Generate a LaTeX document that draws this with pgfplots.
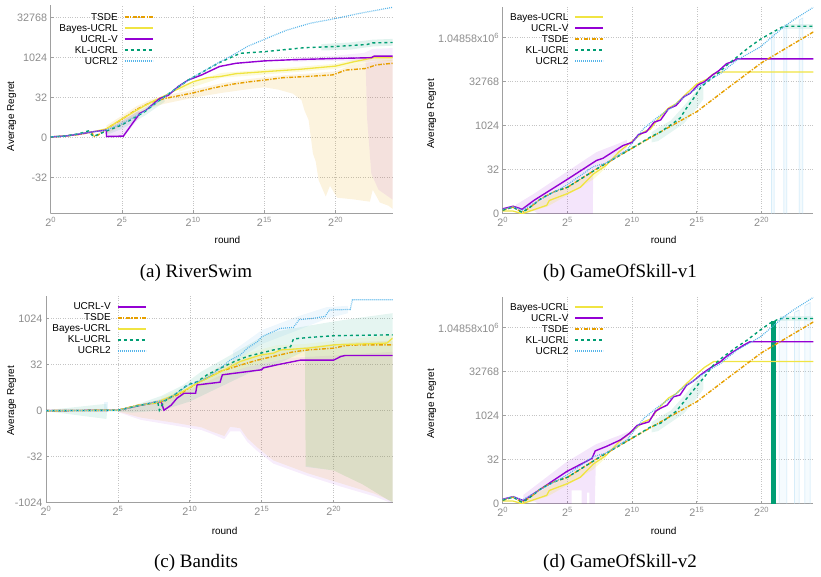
\documentclass[border=0pt]{standalone}
\usepackage{fontspec}
\setmainfont{Liberation Serif}
\setsansfont{Liberation Sans}
\usepackage{pgfplots}
\pgfplotsset{compat=1.18}

\definecolor{cTSDE}{HTML}{E69F00}
\definecolor{cBayes}{HTML}{F0E442}
\definecolor{cUCRLV}{HTML}{9400D3}
\definecolor{cKL}{HTML}{009E73}
\definecolor{cUCRL}{HTML}{56B4E9}
\definecolor{axgray}{HTML}{A0A0A0}
\definecolor{gridgray}{HTML}{C4C4C4}
\definecolor{ticktext}{HTML}{8C8C8C}

\pgfplotsset{
  legend image code/.code={\draw[#1, line width=1.8pt] (0pt,0pt) -- (28pt,0pt);},
  regret/.style={
    scale only axis, xmin=0, xmax=24,
    axis lines*=left,
    axis line style={draw=axgray, line width=0.9pt},
    tick align=inside, major tick length=3pt,
    tick style={draw=axgray, line width=0.8pt},
    xtick={0,5,10,15,20},
    xticklabels={2\textsuperscript{0},2\textsuperscript{5},2\textsuperscript{10},2\textsuperscript{15},2\textsuperscript{20}},
    xmajorgrids, ymajorgrids,
    major grid style={draw=gridgray, line width=0.6pt, dash pattern=on 0.6pt off 1.8pt},
    tick label style={font=\sffamily\fontsize{10.8}{12}\selectfont, text=ticktext},
    label style={font=\sffamily\fontsize{10}{12}\selectfont},
    xlabel={round}, ylabel={Average Regret},
    legend plot pos=right, legend cell align=right,
    legend style={draw=none, fill=none, anchor=north west, inner sep=0pt, column sep=5pt,
      font=\sffamily\fontsize{10}{12}\selectfont,
      nodes={inner sep=1pt, text height=7.3pt, text depth=1.7pt}},
  },
  gosticks/.style={ymin=0, ymax=4.7, ytick={0,1,2,3,4},
    yticklabels={0,32,1024,32768,1.04858x10\textsuperscript{6}}},
  band/.style={forget plot, draw=none, fill=#1},
  tsde/.style={cTSDE, line width=1.4pt, dash pattern=on 4pt off 1.5pt on 1.2pt off 1.5pt},
  bayes/.style={cBayes, line width=1.3pt},
  ucrlv/.style={cUCRLV, line width=1.4pt},
  kl/.style={cKL, line width=1.4pt, dash pattern=on 3pt off 3pt},
  ucrl/.style={cUCRL, line width=1.2pt, dash pattern=on 0.9pt off 1.1pt},
}

\begin{document}
\begin{tikzpicture}
\path[use as bounding box] (0pt,0pt) rectangle (821pt,577pt);

% ---------------- (a) RiverSwim ----------------
\begin{axis}[regret, at={(50.7pt,363.7pt)}, width=342pt, height=208.4pt,
  ymin=-1.89, ymax=3.32, ytick={-1,0,1,2,3}, yticklabels={-32,0,32,1024,32768},
  xlabel style={at={(axis description cs:0.517,-0.128)}, anchor=center},
  ylabel style={at={(axis description cs:-0.114,0.466)}, anchor=center},
  legend style={at={(axis description cs:0.022,0.968)}}]
\addplot[band=cTSDE, fill opacity=0.13] coordinates {
 (3.9,0.3)(5,0.55)(6,0.78)(7,0.95)(8,1.05)(10,1.2)(12,1.36)(14,1.47)(16,1.55)(18,1.6)(20,1.66)(21,1.8)(22.6,1.9)(24,1.95)
 (24,-1.78)(23.7,-1.7)(23.1,-1.62)(22.6,-1.3)(22.4,-1.6)(21.2,-1.54)(20.1,-1.5)(19.6,-1.2)(19.3,-1.47)(18.8,-1.06)(18.6,-0.6)(18.4,-0.39)(18.1,0.44)(17.8,0.69)(17.6,0.94)(17,1.1)(16,1.2)(15,1.26)(14,1.22)(12,1.12)(10,1.0)(8,0.85)(7,0.75)(6,0.55)(5,0.3)(3.9,0.1)};
\addplot[band=cBayes, fill opacity=0.2] coordinates {
 (9,1.3)(12,1.62)(15,1.7)(20,1.85)(22.6,2.05)(24,2.05)(24,1.92)(22.6,1.92)(20,1.72)(15,1.58)(12,1.5)(9,1.15)};
\addplot[band=cUCRLV, fill opacity=0.07] coordinates {
 (17,2.0)(20,2.05)(22,2.12)(22.6,2.22)(24,2.24)(24,-1.55)(23.6,-1.45)(23,-1.3)(22.5,-0.9)(22.2,0.5)(22.1,1.9)(20,1.92)(17,1.9)};
\addplot[band=cUCRLV, fill opacity=0.1] coordinates {
 (3.9,0.22)(5.1,0.45)(6.2,0.68)(6.2,0.5)(5.1,0.0)(3.9,0.0)};
\addplot[band=cKL, fill opacity=0.1] coordinates {
 (4,0.2)(5,0.42)(6.6,0.75)(8,1.05)(8,0.9)(6.6,0.55)(5,0.22)(4,0.08)};
\addplot[band=cKL, fill opacity=0.12] coordinates {
 (19,2.34)(21,2.38)(22.6,2.45)(24,2.47)(24,2.3)(22.6,2.28)(21,2.2)(19,2.18)};

\addplot[tsde] coordinates {
 (0,0.02)(1,0.04)(2,0.08)(2.9,0.14)(3.0,0.03)(3.3,0.06)(3.9,0.22)(5,0.46)(6,0.7)(7,0.88)(8,0.98)(9,1.05)(10,1.12)(11.5,1.25)(12.8,1.34)(14,1.4)(15,1.44)(16.3,1.5)(18,1.53)(19.8,1.57)(20.7,1.69)(22.1,1.73)(22.85,1.82)(24,1.86)};
\addlegendentry{TSDE}
\addplot[bayes] coordinates {
 (0,0.02)(1,0.04)(2,0.09)(3,0.15)(3.9,0.22)(5,0.47)(6,0.68)(7,0.88)(8,1.05)(9,1.23)(10,1.4)(11,1.5)(11.9,1.53)(13,1.6)(15,1.65)(17.5,1.71)(20,1.79)(21.3,1.9)(22.7,2.0)(24,2.0)};
\addlegendentry{Bayes-UCRL}
\addplot[ucrlv] coordinates {
 (0,0.02)(1,0.04)(2,0.09)(3,0.15)(3.9,0.19)(3.92,0.03)(5.1,0.04)(6.25,0.61)(6.7,0.69)(7.65,0.98)(8.25,1.06)(8.95,1.28)(9.65,1.44)(10.6,1.57)(11.85,1.78)(13,1.86)(15,1.92)(17,1.95)(20,1.98)(22.5,2.0)(22.7,2.04)(24,2.04)};
\addlegendentry{UCRL-V}
\addplot[kl] coordinates {
 (0,0.02)(1,0.04)(2,0.1)(2.64,0.17)(2.99,0.03)(3.8,0.15)(5,0.32)(6.6,0.65)(7.8,0.98)(9.65,1.44)(11.85,1.88)(12.8,2.03)(13.3,2.11)(15,2.15)(17.8,2.25)(20,2.28)(22.2,2.33)(22.6,2.37)(24,2.38)};
\addlegendentry{KL-UCRL}
\addplot[ucrl] coordinates {
 (0,0.02)(1,0.04)(2,0.1)(3,0.15)(3.8,0.18)(5,0.35)(6.6,0.66)(7.8,0.98)(9.65,1.44)(11.85,1.89)(12.8,2.07)(13.8,2.28)(15,2.46)(16.5,2.68)(18.2,2.86)(20,2.98)(21.7,3.11)(24,3.26)};
\addlegendentry{UCRL2}
\end{axis}

% ---------------- (b) GameOfSkill-v1 ----------------
\begin{axis}[regret, gosticks, at={(502.7pt,363.3pt)}, width=310.6pt, height=206.8pt,
  xlabel style={at={(axis description cs:0.518,-0.127)}, anchor=center},
  ylabel style={at={(axis description cs:-0.2286,0.482)}, anchor=center},
  legend style={at={(axis description cs:0.02,0.977)}}]
\addplot[band=cUCRLV, fill opacity=0.1] coordinates {
 (1.0,0.2)(2.4,0.45)(4.94,0.95)(7.25,1.4)(9.0,1.6)(9.6,1.68)(9.6,1.5)(8.5,1.2)(7.0,1.0)(6.95,-0.2)(3.5,-0.2)(2.5,0.05)(1.0,0.08)};
\addplot[band=cBayes, fill opacity=0.2] coordinates {
 (1.5,0.05)(3.5,0.38)(5,0.6)(7,0.95)(8,1.12)(8,1.05)(7,0.78)(5,0.42)(3.5,0.17)(1.5,-0.02)};
\addplot[band=cKL, fill opacity=0.1] coordinates {
 (11.5,1.85)(12,1.95)(13,2.12)(14,2.45)(15,2.8)(15.5,2.95)(15.5,2.6)(15,2.4)(14,2.05)(13,1.85)(12,1.65)(11.5,1.62)};
\addplot[band=cKL, fill opacity=0.1] coordinates {
 (21.7,4.32)(24,4.32)(24,4.2)(21.7,4.2)};
\addplot[forget plot, draw=cUCRL!35, line width=0.5pt, fill=cUCRL, fill opacity=0.07] coordinates {
 (20.77,0)(20.77,4.1)(20.97,4.12)(20.97,0)};
\addplot[forget plot, draw=cUCRL!35, line width=0.5pt, fill=cUCRL, fill opacity=0.07] coordinates {
 (21.72,0)(21.72,4.25)(21.95,4.27)(21.95,0)};
\addplot[forget plot, draw=cUCRL!35, line width=0.5pt, fill=cUCRL, fill opacity=0.07] coordinates {
 (22.9,0)(22.9,4.4)(23.2,4.45)(23.2,0)};

\addplot[bayes] coordinates {
 (0,0.06)(0.8,0.06)(1.5,0.0)(3.4,0.19)(3.6,0.3)(4.94,0.45)(6,0.6)(7,0.9)(8,1.1)(9,1.41)(9.8,1.6)(10.9,1.86)(11.4,1.92)(12,2.15)(12.8,2.4)(13.4,2.5)(14.2,2.73)(15,2.95)(15.8,3.06)(16.3,3.18)(16.9,3.22)(24,3.22)};
\addlegendentry{Bayes-UCRL}
\addplot[ucrlv] coordinates {
 (0,0.11)(0.8,0.17)(1.5,0.1)(2.4,0.3)(4.94,0.77)(7.25,1.21)(7.75,1.26)(8.65,1.43)(9.3,1.55)(10.0,1.62)(10.5,1.8)(11.1,1.86)(11.7,2.08)(12.2,2.13)(12.8,2.38)(13.4,2.46)(14.0,2.66)(14.5,2.74)(15.1,2.93)(15.6,3.0)(16.2,3.15)(16.7,3.25)(17.3,3.41)(17.7,3.45)(18.1,3.52)(24,3.52)};
\addlegendentry{UCRL-V}
\addplot[tsde] coordinates {
 (0,0.08)(0.8,0.15)(1.5,0.03)(2,0.12)(3,0.35)(4,0.5)(5,0.6)(7.5,1.06)(10,1.49)(12.2,1.86)(15,2.32)(17.5,2.88)(20,3.43)(22,3.78)(24,4.13)};
\addlegendentry{TSDE}
\addplot[kl] coordinates {
 (0,0.08)(0.8,0.15)(1.5,0.03)(2,0.12)(3,0.35)(4,0.5)(5,0.6)(7.5,1.06)(10,1.49)(11.4,1.74)(12.2,1.86)(13,2.02)(13.7,2.17)(14.2,2.4)(14.75,2.62)(15.25,2.85)(15.8,3.0)(16.5,3.15)(17.3,3.37)(18.1,3.56)(18.6,3.68)(19.4,3.86)(20,3.98)(20.9,4.13)(21.7,4.26)(24,4.26)};
\addlegendentry{KL-UCRL}
\addplot[ucrl] coordinates {
 (0,0.1)(0.8,0.16)(1.5,0.08)(2.5,0.25)(4.94,0.65)(7,1.07)(8,1.15)(9.6,1.45)(10.9,1.94)(12,2.2)(13,2.4)(14,2.65)(15,2.85)(16,3.05)(16.8,3.18)(18.1,3.49)(19.9,3.79)(21.7,4.24)(22.4,4.39)(24,4.69)};
\addlegendentry{UCRL2}
\end{axis}

% ---------------- (c) Bandits ----------------
\begin{axis}[regret, at={(46pt,74.3pt)}, width=346.7pt, height=207pt, xmax=24.1,
  ymin=-2, ymax=2.5, ytick={-2,-1,0,1,2}, yticklabels={-1024,-32,0,32,1024},
  xlabel style={at={(axis description cs:0.515,-0.135)}, anchor=center},
  ylabel style={at={(axis description cs:-0.099,0.492)}, anchor=center},
  legend style={at={(axis description cs:0.015,0.972)}}]
\addplot[band=cUCRLV, fill opacity=0.07] coordinates {
 (5,0.02)(8,0.25)(10,0.45)(12,0.75)(14,0.95)(17,1.15)(20,1.2)(24.1,1.28)
 (24.1,-2.02)(22.8,-1.86)(20.5,-1.65)(18.2,-1.42)(15.8,-1.15)(14.7,-0.88)(14,-0.68)(13.5,-0.45)(12.8,-0.45)(12.4,-0.62)(11.5,-0.5)(10.8,-0.42)(8.9,-0.32)(6.6,-0.2)(5,-0.03)};
\addplot[band=cTSDE, fill opacity=0.11] coordinates {
 (5,0.02)(8,0.25)(10,0.5)(12,0.95)(14,1.15)(16,1.3)(18,1.38)(20,1.45)(22,1.5)(24.1,1.52)
 (24.1,-1.98)(22.8,-1.8)(20.5,-1.58)(18.2,-1.36)(15.8,-1.08)(14.7,-0.8)(14,-0.6)(13.5,-0.38)(12.8,-0.35)(12.4,-0.55)(11.5,-0.45)(10.8,-0.36)(8.9,-0.26)(6.6,-0.15)(5,-0.02)};
\addplot[band=cBayes, fill opacity=0.1] coordinates {
 (8,0.3)(10,0.55)(12,0.9)(14,1.25)(16,1.42)(18,1.45)(20,1.52)(24.1,1.65)
 (24.1,-2.0)(22,-1.6)(20,-1.3)(18.05,-1.2)(18,1.2)(16,1.1)(14,0.95)(12,0.7)(10,0.4)(8,0.1)};
\addplot[band=cKL, fill opacity=0.1] coordinates {
 (0,0.01)(4.2,0.15)(4.25,0.02)(5,0.02)(6,0.1)(8,0.32)(9.5,0.55)(10.8,0.85)(12.5,1.15)(14,1.42)(15.4,1.68)(17,1.78)(18.5,1.86)(20,1.94)(22,2.03)(24.1,2.12)
 (24.1,-2.0)(22,-1.6)(20,-1.3)(18.05,-1.22)(18,1.3)(16,1.0)(14,0.8)(12,0.5)(10,0.2)(8,0.0)(6,-0.04)(5,-0.02)(4.25,-0.02)(4.2,-0.18)(0,-0.01)};
\addplot[band=cUCRL, fill opacity=0.1] coordinates {
 (13,1.3)(15,1.75)(17.5,2.05)(19.5,2.25)(21,2.28)(21,2.12)(19.5,2.0)(17.5,1.75)(15,1.45)(13,1.05)};
\addplot[band=cUCRL, fill opacity=0.12] coordinates {
 (4.0,0)(4.0,0.19)(4.3,0.19)(4.3,0)};

\addplot[ucrlv] coordinates {
 (0,0)(5,0.01)(6.6,0.12)(7.5,0.17)(8.0,0.2)(8.2,0.01)(8.7,0.12)(9.1,0.27)(9.6,0.38)(10.4,0.38)(10.5,0.56)(12.1,0.62)(12.26,0.78)(13.5,0.83)(15.0,0.89)(15.1,0.93)(16.1,1.0)(17.7,1.1)(20,1.1)(20.5,1.18)(20.8,1.2)(24.1,1.2)};
\addlegendentry{UCRL-V}
\addplot[tsde] coordinates {
 (0,0)(5,0.01)(6.4,0.12)(7.5,0.16)(7.8,0.17)(9.4,0.38)(10.5,0.6)(12.1,0.85)(13.5,0.99)(14.7,1.1)(15.8,1.18)(17.2,1.28)(18.2,1.32)(19.1,1.34)(20,1.36)(20.9,1.42)(21.8,1.43)(24.1,1.43)};
\addlegendentry{TSDE}
\addplot[bayes] coordinates {
 (0,0)(5,0.01)(6.5,0.12)(7.6,0.17)(9.4,0.4)(10.5,0.6)(11.7,0.78)(12.6,0.92)(13.5,1.07)(14.9,1.21)(15.8,1.25)(16.3,1.32)(18.2,1.36)(20,1.43)(23.7,1.47)(24.1,1.58)};
\addlegendentry{Bayes-UCRL}
\addplot[kl] coordinates {
 (0,0)(5,0.01)(6.6,0.12)(7.5,0.18)(7.76,0.2)(7.88,0.01)(8.2,0.2)(8.9,0.34)(9.84,0.56)(10.5,0.63)(11.2,0.78)(12.1,0.92)(13.1,1.07)(14.0,1.18)(14.9,1.25)(15.8,1.32)(17.0,1.39)(17.2,1.56)(18.2,1.59)(20,1.63)(24.1,1.65)};
\addlegendentry{KL-UCRL}
\addplot[ucrl] coordinates {
 (0,0)(5,0.01)(6.6,0.12)(7.5,0.18)(7.8,0.2)(8.2,0.22)(8.9,0.34)(9.84,0.55)(10.3,0.6)(11.2,0.72)(12.1,0.92)(12.8,1.1)(13.5,1.21)(14.0,1.36)(14.7,1.5)(15.0,1.61)(15.8,1.72)(16.3,1.79)(17.2,1.81)(17.6,1.98)(18.6,2.01)(19.4,2.05)(19.7,2.19)(21.15,2.2)(21.3,2.41)(24.1,2.41)};
\addlegendentry{UCRL2}
\end{axis}

% ---------------- (d) GameOfSkill-v2 ----------------
\begin{axis}[regret, gosticks, at={(502.7pt,73.3pt)}, width=310.6pt, height=206.8pt,
  xlabel style={at={(axis description cs:0.518,-0.1306)}, anchor=center},
  ylabel style={at={(axis description cs:-0.2286,0.482)}, anchor=center},
  legend style={at={(axis description cs:0.02,0.977)}}]
\addplot[band=cUCRLV, fill opacity=0.1] coordinates {
 (1.6,0.2)(4.94,0.95)(7.2,1.35)(9,1.55)(9.8,1.65)(9.8,1.5)(8,1.15)(7.2,1.0)(7.1,-0.2)(6.7,-0.2)(6.7,0.25)(6.5,0.25)(6.5,-0.2)(6.1,-0.2)(6.1,0.3)(5.33,0.3)(5.33,-0.2)(3.5,-0.2)(2.5,0.05)(1.6,0.03)};
\addplot[band=cBayes, fill opacity=0.2] coordinates {
 (1.5,0.05)(3.5,0.38)(5,0.6)(7,0.95)(8,1.12)(8,1.05)(7,0.78)(5,0.42)(3.5,0.17)(1.5,-0.02)};
\addplot[band=cKL, fill opacity=0.1] coordinates {
 (11.5,1.85)(12,1.95)(13,2.12)(14,2.45)(15,2.8)(15.5,2.95)(15.5,2.6)(15,2.4)(14,2.05)(13,1.85)(12,1.65)(11.5,1.62)};
\addplot[band=cKL, fill opacity=0.1] coordinates {
 (21.4,4.27)(24,4.27)(24,4.15)(21.4,4.15)};
\addplot[forget plot, draw=cUCRL!35, line width=0.5pt, fill=cUCRL, fill opacity=0.06] coordinates {
 (21.36,0)(21.36,4.2)(21.95,4.28)(21.95,0)};
\addplot[forget plot, draw=cUCRL!35, line width=0.5pt, fill=cUCRL, fill opacity=0.06] coordinates {
 (22.55,0)(22.55,4.35)(22.9,4.4)(22.9,0)};
\addplot[forget plot, draw=cUCRL!35, line width=0.5pt, fill=cUCRL, fill opacity=0.06] coordinates {
 (23.35,0)(23.35,4.5)(23.75,4.57)(23.75,0)};
\addplot[band=cKL] coordinates {
 (20.72,-0.1)(20.72,4.15)(21.08,4.15)(21.08,-0.1)};

\addplot[bayes] coordinates {
 (0,0.06)(0.8,0.06)(1.5,0.0)(3.4,0.19)(3.6,0.3)(4.94,0.45)(6,0.6)(7,0.9)(8,1.1)(9,1.41)(9.8,1.6)(10.9,1.86)(11.4,1.92)(12,2.15)(12.8,2.4)(13.4,2.5)(14.2,2.73)(15,2.95)(15.6,3.1)(16.3,3.23)(24,3.23)};
\addlegendentry{Bayes-UCRL}
\addplot[ucrlv] coordinates {
 (0,0.1)(0.8,0.16)(1.6,0.07)(4.94,0.73)(6.9,1.03)(7.15,1.2)(8,1.3)(9.1,1.45)(9.8,1.6)(10.4,1.78)(11.3,1.86)(11.8,2.1)(12.2,2.17)(12.7,2.24)(13.2,2.43)(13.7,2.47)(14.2,2.69)(14.74,2.79)(15.26,2.92)(15.77,3.03)(16.28,3.13)(16.8,3.22)(17.3,3.35)(17.8,3.45)(18.6,3.6)(19.1,3.68)(24,3.68)};
\addlegendentry{UCRL-V}
\addplot[tsde] coordinates {
 (0,0.08)(0.8,0.15)(1.5,0.03)(2,0.12)(3,0.35)(4,0.5)(5,0.6)(7.5,1.06)(10,1.49)(12.2,1.86)(15,2.32)(17.5,2.88)(20,3.43)(22,3.78)(24,4.13)};
\addlegendentry{TSDE}
\addplot[kl] coordinates {
 (0,0.08)(0.8,0.15)(1.5,0.03)(2,0.12)(3,0.35)(4,0.5)(5,0.6)(7.5,1.06)(10,1.49)(11.4,1.74)(12.2,1.83)(13.4,2.1)(14.74,2.58)(15.5,2.85)(16.28,3.15)(17.05,3.34)(18.08,3.56)(18.85,3.71)(19.87,3.94)(20.64,4.1)(21.0,4.15)(21.4,4.21)(24,4.21)};
\addlegendentry{KL-UCRL}
\addplot[ucrl] coordinates {
 (0,0.1)(0.8,0.16)(1.5,0.08)(2.5,0.25)(4.94,0.65)(7,1.07)(8,1.15)(9.6,1.45)(10.9,1.94)(12,2.2)(13,2.4)(14,2.65)(15,2.85)(16,3.05)(16.8,3.18)(18.1,3.49)(19.9,3.79)(21.7,4.24)(22.4,4.39)(24,4.69)};
\addlegendentry{UCRL2}
\end{axis}

% sub-figure captions
\node[font=\fontsize{19}{21}\selectfont, anchor=base] at (196pt,299pt) {(a) RiverSwim};
\node[font=\fontsize{19}{21}\selectfont, anchor=base] at (620pt,299pt) {(b) GameOfSkill-v1};
\node[font=\fontsize{19}{21}\selectfont, anchor=base] at (196pt,9pt) {(c) Bandits};
\node[font=\fontsize{19}{21}\selectfont, anchor=base] at (620pt,9pt) {(d) GameOfSkill-v2};
\end{tikzpicture}
\end{document}
